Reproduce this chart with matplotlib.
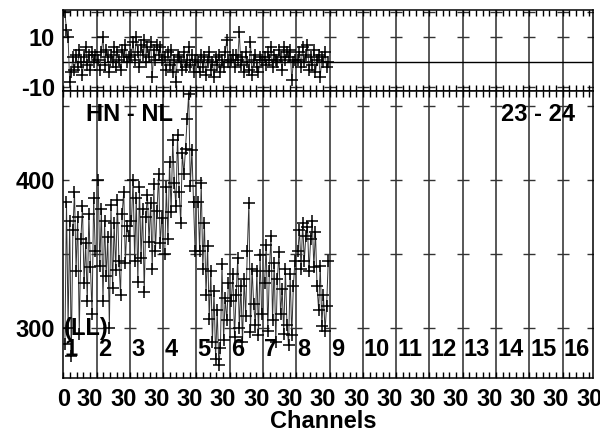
import numpy as np
import matplotlib
matplotlib.use("Agg")
import matplotlib.pyplot as plt

plt.rcParams['font.family'] = ['Liberation Sans', 'DejaVu Sans']
plt.rcParams['font.weight'] = 'bold'

SEG = 37.5          # channel units per IF window
N_IF = 16
CHANNELS = np.arange(1.8, 37, 1.8)   # 20 channels per IF
IF_LABELS = [str(i) for i in range(1, 17)]
XTICK_LABELS = ['0'] + ['30'] * 16

AMP_IF1 = [289, 385, 300, 372, 281, 366, 392, 338, 375, 296, 360, 382, 330, 357, 318, 377, 341, 309, 388, 352]
AMP_IF2 = [400, 342, 380, 318, 372, 335, 361, 300, 383, 327, 371, 339, 386, 345, 322, 377, 392, 344, 369, 362]
AMP_IF3 = [372, 400, 345, 388, 331, 395, 347, 380, 324, 375, 390, 358, 384, 340, 397, 352, 379, 404, 357, 374]
AMP_IF4 = [350, 395, 360, 412, 378, 427, 398, 382, 430, 392, 371, 418, 404, 421, 441, 458, 396, 420, 385, 352]
AMP_IF5 = [385, 352, 398, 340, 371, 322, 355, 306, 338, 290, 325, 279, 312, 275, 286, 343, 292, 320, 305, 330]
AMP_IF6 = [318, 336, 294, 322, 347, 300, 328, 290, 333, 308, 352, 384, 297, 340, 316, 302, 338, 295, 349, 309]
AMP_IF7 = [330, 356, 298, 338, 362, 305, 344, 290, 333, 351, 309, 326, 296, 340, 302, 288, 336, 295, 328, 345]
AMP_IF8 = [352, 366, 340, 371, 345, 362, 368, 338, 360, 372, 341, 365, 328, 312, 342, 301, 322, 298, 315, 345]

PHS_IF1 = [20, 13, 10, -8, -4, 2, -3, 3, -2, 5, 0, -5, 2, 6, -1, 3, -3, 4, 0, 3]
PHS_IF2 = [1, -3, 4, 10, -1, 5, 2, -4, 3, 0, 6, -2, 4, 1, -3, 5, 2, 7, 0, 2]
PHS_IF3 = [3, 8, 1, 10, 4, -2, 7, 3, 9, 0, 6, 2, 8, -6, 5, 1, 7, 3, 6, 1]
PHS_IF4 = [2, -3, 4, -1, 5, -4, 1, -8, 3, 2, 0, -3, 4, -2, 1, 6, -1, 3, -4, 1]
PHS_IF5 = [0, -4, 3, -2, 2, -5, 1, 4, -3, 0, -6, 2, -1, 3, -4, 1, -2, 4, 9, 0]
PHS_IF6 = [1, 3, -2, 3, 1, 12, -1, 2, -4, 4, 0, -3, 8, -5, 1, 3, -2, -4, 2, 1]
PHS_IF7 = [2, -1, 4, 1, 6, -2, 3, 1, 0, 5, 2, -3, 6, 1, 4, 2, 5, -7, 0, 1]
PHS_IF8 = [1, 4, -2, 6, 0, 3, 7, -3, 2, -1, 5, -4, 1, 3, -6, 2, 0, 4, -2, 0]

AMPS = [AMP_IF1, AMP_IF2, AMP_IF3, AMP_IF4, AMP_IF5, AMP_IF6, AMP_IF7, AMP_IF8]
PHSS = [PHS_IF1, PHS_IF2, PHS_IF3, PHS_IF4, PHS_IF5, PHS_IF6, PHS_IF7, PHS_IF8]

PH_TICKS = [-10, 10]
PH_DASHES = [-10, 10, 20]
AMP_TICKS = [300, 400]
AMP_DASHES = [300, 350, 400, 450]

FS = 17
XMAX = 15.9 * SEG

fig = plt.figure(figsize=(6, 4.32), dpi=100)
L, W = 0.1055, 0.882
ax1 = fig.add_axes([L, 0.7894, W, 0.1875])
ax2 = fig.add_axes([L, 0.125, W, 0.6644], sharex=ax1)

boundaries = [k * SEG for k in range(1, N_IF)]
dash_x = [0] + boundaries + [XMAX]
major_x = [0] + [k * SEG + 30 for k in range(N_IF)]
minor_x = [k * SEG / 5 for k in range(int(XMAX / (SEG / 5)) + 1)
           if all(abs(k * SEG / 5 - m) > 1e-6 for m in major_x)]

for ax in (ax1, ax2):
    ax.set_xlim(0, XMAX)
    for b in boundaries:
        ax.axvline(b, color='#2a2a2a', lw=1.1, zorder=1)
    for s in ax.spines.values():
        s.set_linewidth(1.1)
    ax.set_xticks(major_x)
    ax.set_xticks(minor_x, minor=True)
    ax.tick_params(axis='x', which='both', direction='in', top=True, bottom=True,
                   length=4, width=1)
    ax.tick_params(axis='y', which='both', length=0)

# phase panel
ax1.set_ylim(-11.4, 21)
ax1.axhline(0, color='k', lw=1.0, zorder=1)
for yv in PH_DASHES:
    ax1.plot(dash_x, [yv] * len(dash_x), ls='none', marker='_', ms=9, mew=1, color='#333', zorder=1)
for i, p in enumerate(PHSS):
    x = i * SEG + CHANNELS
    ax1.plot(x, p, '-', color='#444', lw=0.7, zorder=2)
    ax1.plot(x, p, '+', color='k', ms=9, mew=1.1, zorder=3)
ax1.set_yticks(PH_TICKS)
ax1.set_yticklabels([str(v) for v in PH_TICKS], fontsize=FS, fontweight='bold')
ax1.tick_params(axis='y', pad=6)
plt.setp(ax1.get_xticklabels(), visible=False)

# amplitude panel
ax2.set_ylim(266, 460)
for yv in AMP_DASHES:
    ax2.plot(dash_x, [yv] * len(dash_x), ls='none', marker='_', ms=9, mew=1, color='#333', zorder=1)
for i, a in enumerate(AMPS):
    x = i * SEG + CHANNELS
    ax2.plot(x, a, '-', color='#333', lw=0.7, zorder=2)
    ax2.plot(x, a, '+', color='k', ms=9, mew=1.1, zorder=3)
ax2.set_yticks(AMP_TICKS)
ax2.set_yticklabels([str(v) for v in AMP_TICKS], fontsize=FS, fontweight='bold')
ax2.tick_params(axis='y', pad=6)
ax2.set_xticklabels(XTICK_LABELS, fontsize=FS, fontweight='bold')
ax2.tick_params(axis='x', pad=7)

for k, lab in enumerate(IF_LABELS):
    ax2.text(k * SEG + 1.2, 285, lab, fontsize=FS, fontweight='bold', ha='left', va='center', zorder=4)

ax2.text(1.2, 299.5, '(LL)', fontsize=FS, fontweight='bold', ha='left', va='center', zorder=4)
ax2.text(26, 444, 'HN - NL', fontsize=FS, fontweight='bold', ha='left', va='center', zorder=4)
ax2.text(576, 444, '23 - 24', fontsize=FS, fontweight='bold', ha='right', va='center', zorder=4)

fig.text(323.5 / 600, 1 - 422 / 432, 'Channels', fontsize=FS, fontweight='bold',
         ha='center', va='center')

fig.savefig('out.png', dpi=100)
